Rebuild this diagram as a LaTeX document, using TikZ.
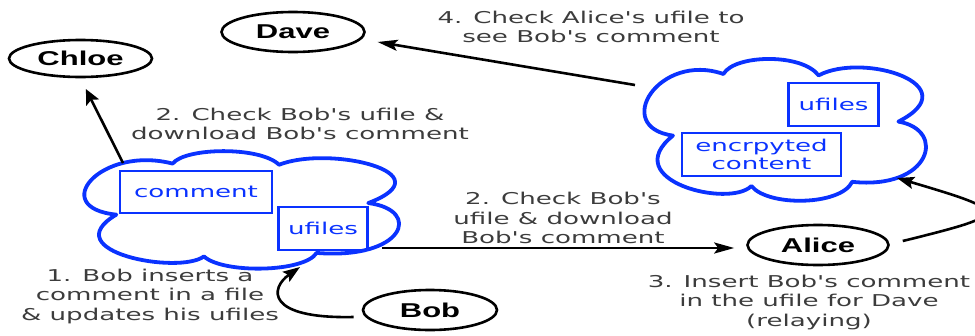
\documentclass[tikz,border=0pt]{standalone}
\usepackage{fontspec}
\usetikzlibrary{arrows.meta,shapes.geometric}
\newfontfamily\labfont{DejaVu Sans}[FakeStretch=1.6]
\newfontfamily\namefont{Liberation Sans}[FakeStretch=1.55]
\definecolor{cblue}{RGB}{10,50,255}
\definecolor{lgray}{RGB}{60,60,60}
\newcommand\drawcloud{\draw[cloudline] (0.28,0.10) .. controls (0.32,-0.04) and (0.56,-0.05) .. (0.62,0.11)
 .. controls (0.78,-0.06) and (1.16,0.18) .. (0.905,0.44)
 .. controls (1.08,0.50) and (1.02,0.93) .. (0.74,0.87)
 .. controls (0.70,1.04) and (0.44,1.05) .. (0.38,0.90)
 .. controls (0.30,1.06) and (-0.10,0.86) .. (0.10,0.54)
 .. controls (-0.12,0.48) and (0.05,-0.06) .. (0.28,0.10) -- cycle;}
\begin{document}
\begin{tikzpicture}[x=1pt,y=-1pt,
  lab/.style={font=\labfont\fontsize{16.3}{19.5}\selectfont, text=lgray, align=center, inner sep=0pt},
  actor/.style={ellipse, draw, line width=2.6pt, inner sep=0pt, font=\namefont\bfseries\fontsize{20}{24}\selectfont},
  bbox/.style={draw=cblue, line width=2.5pt, text=cblue, font=\labfont\fontsize{16.3}{18.5}\selectfont, align=center, inner sep=0pt},
  cloudline/.style={draw=cblue, line width=3.8pt, line join=round},
  conn/.style={line width=2.6pt, draw=black},
  tipH/.style={-{Stealth[length=20pt,width=11pt,inset=4pt]}},
  tipV/.style={-{Stealth[length=15pt,width=14pt,inset=3pt]}},
  tipM/.style={-{Stealth[length=17pt,width=12pt,inset=3pt]}}
]
\useasboundingbox (0,0) rectangle (975,335);
% clouds
\begin{scope}[shift={(85,152)}, xscale=313, yscale=116]
\drawcloud
\end{scope}
\begin{scope}[shift={(645,60)}, xscale=280, yscale=140]
\drawcloud
\end{scope}
% actors
\node[actor, minimum width=143pt, minimum height=40pt] (Dave) at (293,32) {Dave};
\node[actor, minimum width=143pt, minimum height=37pt] (Chloe) at (80.5,58.5) {Chloe};
\node[actor, minimum width=134pt, minimum height=40pt] (Bob) at (430,310) {Bob};
\node[actor, minimum width=141pt, minimum height=40pt] (Alice) at (818,245) {Alice};
% boxes
\node[bbox, minimum width=152pt, minimum height=42pt] (comment) at (196,192) {comment};
\node[bbox, minimum width=89pt, minimum height=43pt] (ufilesA) at (323,228.5) {ufiles};
\node[bbox, minimum width=90pt, minimum height=43pt] (ufilesB) at (833.5,104.5) {ufiles};
\node[bbox, minimum width=159pt, minimum height=43pt] (enc) at (761.5,154.5) {encrpyted\\content};
% labels
\node[lab] (l4) at (591,27) {4. Check Alice's ufile to\\see Bob's comment};
\node[lab] (l2a) at (300,124) {2. Check Bob's ufile \&\\download Bob's comment};
\node[lab] (l2b) at (563,218) {2. Check Bob's\\ufile \& download\\Bob's comment};
\node[lab] (l1) at (150,296) {1. Bob inserts a\\comment in a file\\\& updates his ufiles};
\node[lab] (l3) at (809,302) {3. Insert Bob's comment\\in the ufile for Dave\\(relaying)};
% attachment points
\coordinate (c1chl) at (123,163);
\coordinate (c2dave) at (635,85);
\coordinate (c1al) at (382,248);
\coordinate (c1bob) at (300,267);
\coordinate (c2al) at (897,178);
% connectors
\draw[conn, tipV, shorten >=12pt] (c1chl) -- (Chloe.south);
\draw[conn, tipH, shorten >=12pt] (c2dave) -- ([yshift=-8pt]Dave.east);
\draw[conn, tipH, shorten >=12pt] (c1al) -- (c1al -| Alice.west);
\draw[conn, tipM] ([xshift=-8pt,yshift=-7pt]Bob.west) .. controls (265,319) and (270,288) .. (c1bob);
\draw[conn, tipM] ([xshift=13pt,yshift=4pt]Alice.east) .. controls (1012,214) and (1012,212) .. (c2al);
\end{tikzpicture}
\end{document}
